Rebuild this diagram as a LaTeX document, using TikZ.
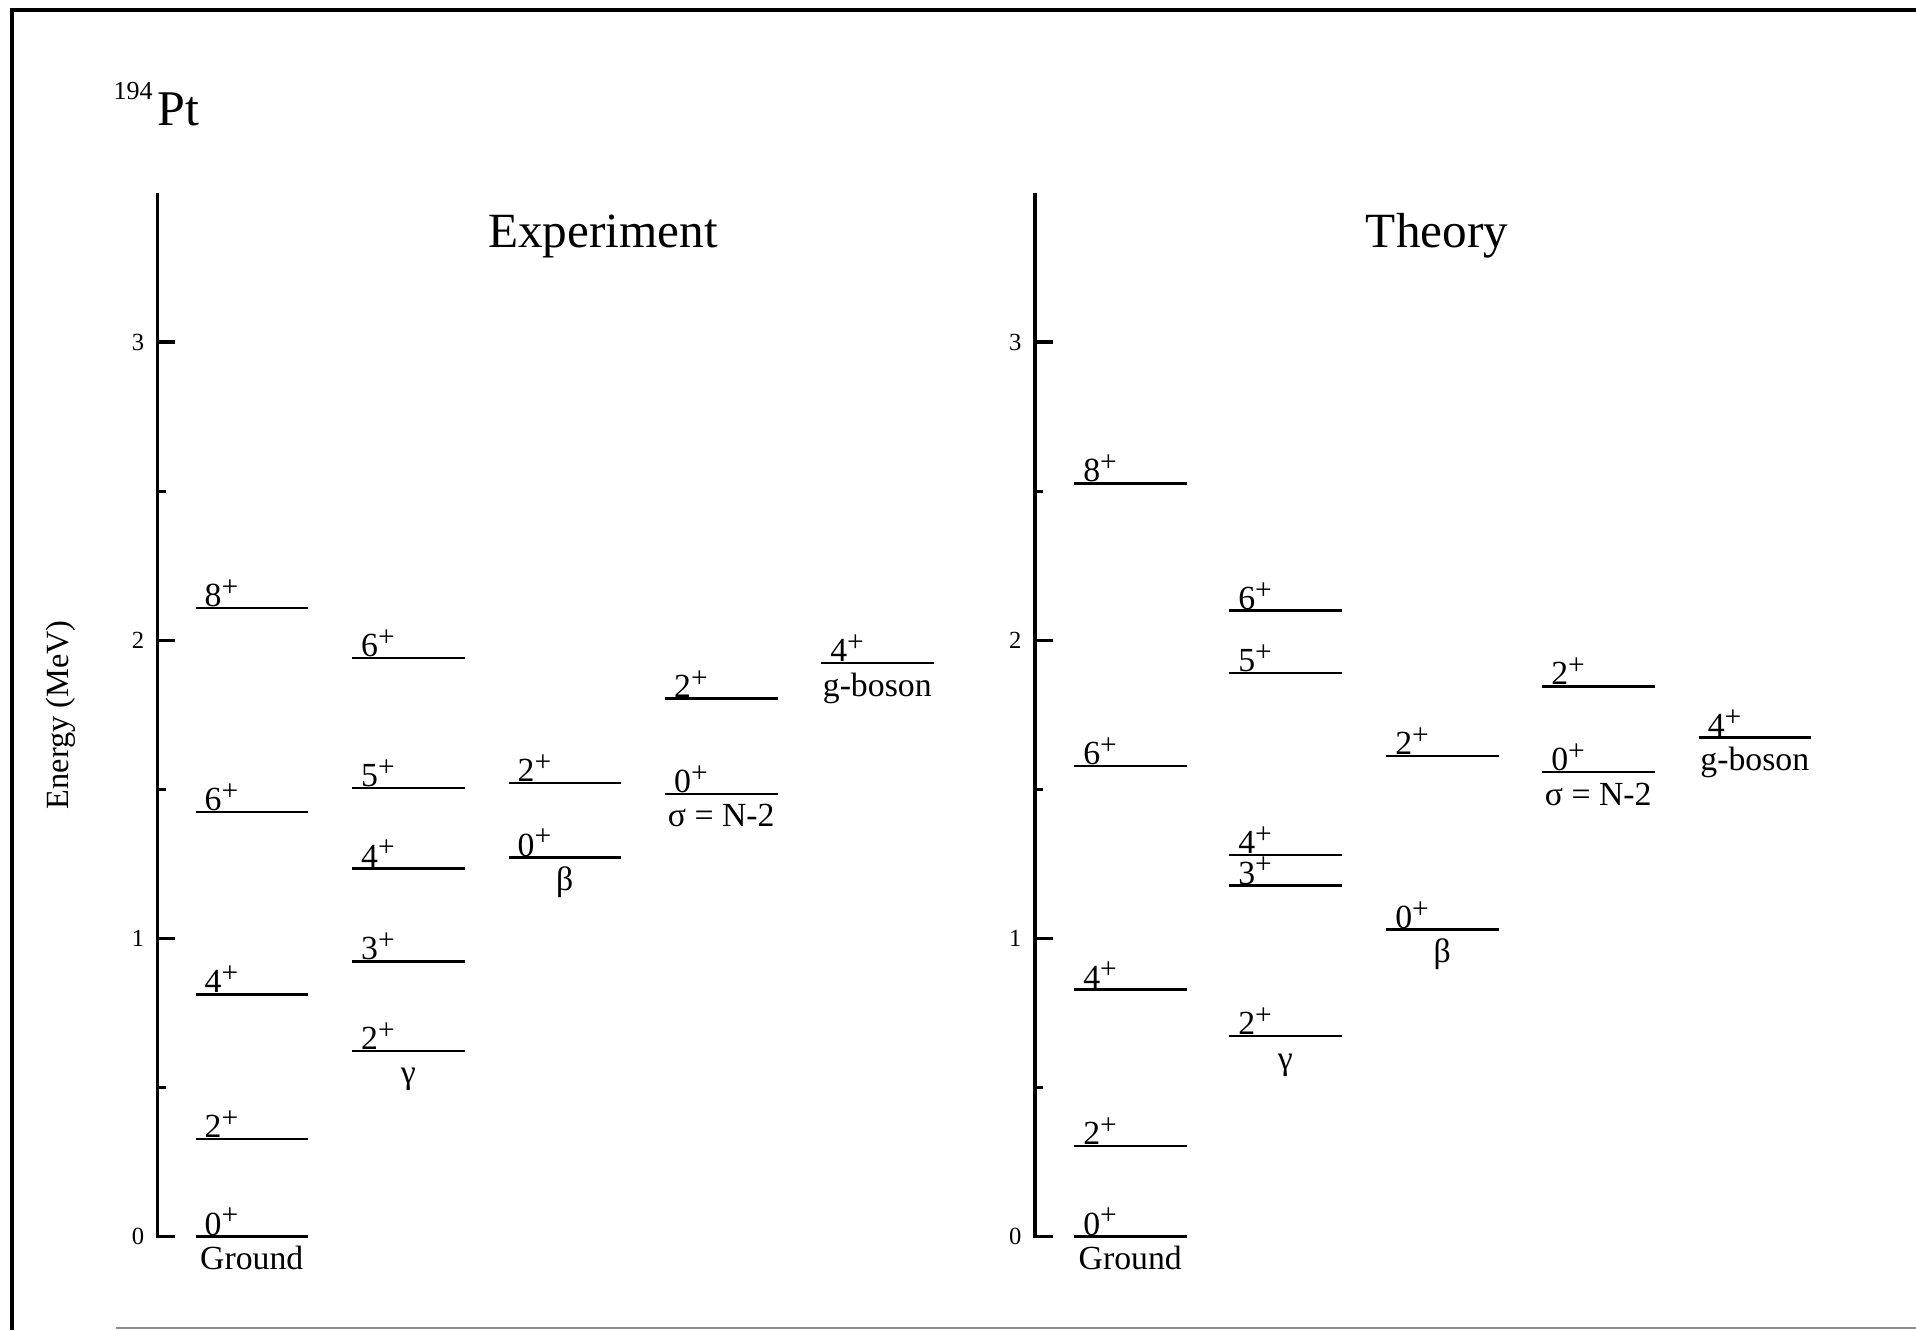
\documentclass[tikz,border=0pt]{standalone}
\usepackage{fontspec}
\setmainfont{Liberation Serif}
\usetikzlibrary{positioning}

\newcommand{\parity}{\raisebox{0.3em}{\fontsize{8.4}{9}\selectfont +}}

\tikzset{
    boxline/.style={line width=1.1pt},
    axisline/.style={line width=0.9pt},
    level/.style={line width=0.7pt},
    spin/.style={anchor=base west, inner sep=0pt, xshift=0.08cm, yshift=0.015cm, font=\fontsize{9.6}{11}\selectfont},
    band/.style={anchor=base, inner sep=0pt, yshift=-0.33cm, font=\fontsize{9.6}{11}\selectfont},
    ticklab/.style={anchor=east, inner sep=0pt, font=\fontsize{7}{8}\selectfont},
    heading/.style={anchor=base, inner sep=0pt, font=\fontsize{14}{16}\selectfont}
}

\begin{document}
\begin{tikzpicture}[x=0.01cm, y=0.01cm]
    \useasboundingbox (0,0) rectangle (1916,1330);

    % Frame
    \draw[boxline] (1916,1320) -- (12,1320) -- (12,0);
    \draw[black!45, line width=0.8pt] (116,2) -- (1916,2);

    % Nucleus
    \node[anchor=base west, inner sep=0pt, font=\fontsize{14.2}{16}\selectfont] (nucleus) at (113,1204)
        {\raisebox{7.4pt}{\fontsize{7.4}{8}\selectfont 194}\hspace{1.4pt}Pt};

    % Experiment
    \begin{scope}[yshift=0.934cm, y=2.98cm]
        \draw[axisline] (157.6,3.5) -- (157.6,0) -- ++(17.7,0)
            (157.6,1) -- ++(17.7,0) (157.6,2) -- ++(17.7,0) (157.6,3) -- ++(17.7,0);
        \draw[axisline] (157.6,0.5) -- ++(8.3,0) (157.6,1.5) -- ++(8.3,0) (157.6,2.5) -- ++(8.3,0);
        \node[ticklab] (ex0) at (145,0) {0};
        \node[ticklab] (ex1) at (145,1) {1};
        \node[ticklab] (ex2) at (145,2) {2};
        \node[ticklab] (ex3) at (145,3) {3};
        \node[rotate=90, inner sep=0pt, font=\fontsize{9.2}{11}\selectfont] (energy) at (61,1.75) {Energy (MeV)};
        \node[heading] (exp) at (603,3.317) {Experiment};

        % Ground band
        \draw[level] (195.5,0) node[spin] (eg0) {0\parity} -- ++(112.5,0) node[band, midway] (egname) {Ground};
        \draw[level] (195.5,0.328) node[spin] (eg2) {2\parity} -- ++(112.5,0);
        \draw[level] (195.5,0.812) node[spin] (eg4) {4\parity} -- ++(112.5,0);
        \draw[level] (195.5,1.423) node[spin] (eg6) {6\parity} -- ++(112.5,0);
        \draw[level] (195.5,2.108) node[spin] (eg8) {8\parity} -- ++(112.5,0);

        % Gamma band
        \draw[level] (352,0.623) node[spin] (ey2) {2\parity} -- ++(112.5,0) node[band, midway] (eyname) {γ};
        \draw[level] (352,0.923) node[spin] (ey3) {3\parity} -- ++(112.5,0);
        \draw[level] (352,1.234) node[spin] (ey4) {4\parity} -- ++(112.5,0);
        \draw[level] (352,1.505) node[spin] (ey5) {5\parity} -- ++(112.5,0);
        \draw[level] (352,1.940) node[spin] (ey6) {6\parity} -- ++(112.5,0);

        % Beta band
        \draw[level] (508.5,1.271) node[spin] (eb0) {0\parity} -- ++(112.5,0) node[band, midway] (ebname) {β};
        \draw[level] (508.5,1.521) node[spin] (eb2) {2\parity} -- ++(112.5,0);

        % Sigma = N-2
        \draw[level] (665,1.485) node[spin] (es0) {0\parity} -- ++(112.5,0) node[band, midway] (esname) {σ = N-2};
        \draw[level] (665,1.804) node[spin] (es2) {2\parity} -- ++(112.5,0);

        % g-boson
        \draw[level] (821,1.923) node[spin] (eh4) {4\parity} -- ++(112.5,0) node[band, midway] (ehname) {g-boson};
    \end{scope}

    % Theory
    \begin{scope}[yshift=0.934cm, y=2.98cm]
        \draw[axisline] (1035,3.5) -- (1035,0) -- ++(17.7,0)
            (1035,1) -- ++(17.7,0) (1035,2) -- ++(17.7,0) (1035,3) -- ++(17.7,0);
        \draw[axisline] (1035,0.5) -- ++(8.3,0) (1035,1.5) -- ++(8.3,0) (1035,2.5) -- ++(8.3,0);
        \node[ticklab] (th0) at (1022,0) {0};
        \node[ticklab] (th1) at (1022,1) {1};
        \node[ticklab] (th2) at (1022,2) {2};
        \node[ticklab] (th3) at (1022,3) {3};
        \node[heading] (theo) at (1437,3.317) {Theory};

        % Ground band
        \draw[level] (1074,0) node[spin] (tg0) {0\parity} -- ++(112.5,0) node[band, midway] (tgname) {Ground};
        \draw[level] (1074,0.304) node[spin] (tg2) {2\parity} -- ++(112.5,0);
        \draw[level] (1074,0.828) node[spin] (tg4) {4\parity} -- ++(112.5,0);
        \draw[level] (1074,1.579) node[spin] (tg6) {6\parity} -- ++(112.5,0);
        \draw[level] (1074,2.526) node[spin] (tg8) {8\parity} -- ++(112.5,0);

        % Gamma band
        \draw[level] (1229,0.672) node[spin] (ty2) {2\parity} -- ++(112.5,0) node[band, midway] (tyname) {γ};
        \draw[level] (1229,1.177) node[spin] (ty3) {3\parity} -- ++(112.5,0);
        \draw[level] (1229,1.279) node[spin] (ty4) {4\parity} -- ++(112.5,0);
        \draw[level] (1229,1.890) node[spin] (ty5) {5\parity} -- ++(112.5,0);
        \draw[level] (1229,2.099) node[spin] (ty6) {6\parity} -- ++(112.5,0);

        % Beta band
        \draw[level] (1386,1.029) node[spin] (tb0) {0\parity} -- ++(112.5,0) node[band, midway] (tbname) {β};
        \draw[level] (1386,1.612) node[spin] (tb2) {2\parity} -- ++(112.5,0);

        % Sigma = N-2
        \draw[level] (1542,1.558) node[spin] (ts0) {0\parity} -- ++(112.5,0) node[band, midway] (tsname) {σ = N-2};
        \draw[level] (1542,1.845) node[spin] (ts2) {2\parity} -- ++(112.5,0);

        % g-boson
        \draw[level] (1698.5,1.673) node[spin] (th4) {4\parity} -- ++(112.5,0) node[band, midway] (thname) {g-boson};
    \end{scope}
\end{tikzpicture}
\end{document}
